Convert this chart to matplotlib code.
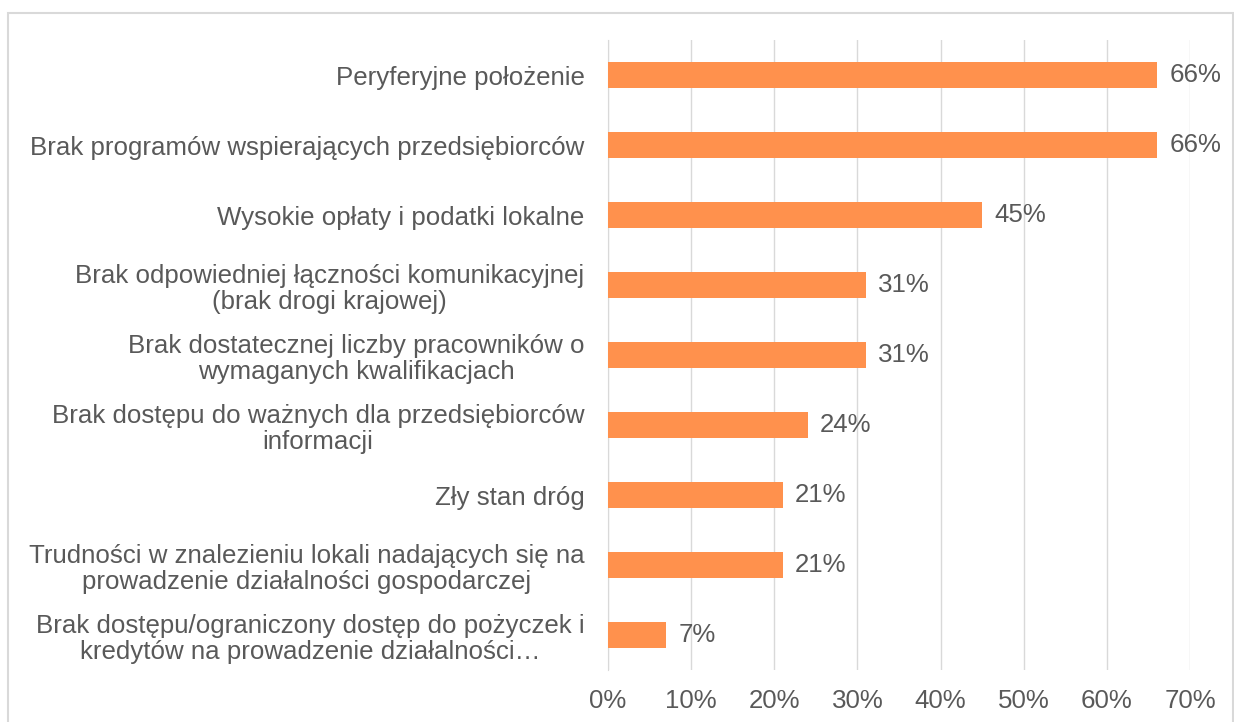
import matplotlib
matplotlib.use('Agg')
import matplotlib.pyplot as plt
from matplotlib.patches import Rectangle
from matplotlib.ticker import PercentFormatter

plt.rcParams['font.family'] = ['Liberation Sans', 'DejaVu Sans']

# dane (od góry do dołu)
categories = [
    'Peryferyjne położenie',
    'Brak programów wspierających przedsiębiorców',
    'Wysokie opłaty i podatki lokalne',
    'Brak odpowiedniej łączności komunikacyjnej\n(brak drogi krajowej)',
    'Brak dostatecznej liczby pracowników o\nwymaganych kwalifikacjach',
    'Brak dostępu do ważnych dla przedsiębiorców\ninformacji',
    'Zły stan dróg',
    'Trudności w znalezieniu lokali nadających się na\nprowadzenie działalności gospodarczej',
    'Brak dostępu/ograniczony dostęp do pożyczek i\nkredytów na prowadzenie działalności…',
]
values = [66, 66, 45, 31, 31, 24, 21, 21, 7]
value_labels = ['66%', '66%', '45%', '31%', '31%', '24%', '21%', '21%', '7%']

BAR = '#FF914D'
TXT = '#595959'
GRID = '#D9D9D9'
FS = 18.6

fig = plt.figure(figsize=(12.34, 7.22), dpi=100, facecolor='white')
ax = fig.add_axes([608 / 1234, 52 / 722, 582 / 1234, 630 / 722])

y = list(range(len(categories)))
ax.barh(y, values, height=0.37, color=BAR, zorder=3)
ax.set_ylim(len(categories) - 0.5, -0.5)
ax.set_xlim(0, 70)
ax.set_xticks(range(0, 71, 10))
ax.xaxis.set_major_formatter(PercentFormatter(decimals=0))
ax.set_yticks(y)
ax.set_yticklabels(categories)
for lab in ax.get_yticklabels():
    lab.set_multialignment('center')
    lab.set_linespacing(1.12)

ax.grid(axis='x', color=GRID, linewidth=1, zorder=0)
for s in ['top', 'right', 'bottom']:
    ax.spines[s].set_visible(False)
ax.spines['left'].set_color(GRID)
ax.tick_params(axis='both', length=0, labelsize=FS, labelcolor=TXT)
ax.tick_params(axis='y', pad=17)
ax.tick_params(axis='x', pad=14)

for yi, v, t in zip(y, values, value_labels):
    ax.text(v + 1.5, yi, t, va='center', ha='left', fontsize=FS, color=TXT)

# ramka wykresu
fig.patches.append(Rectangle((8 / 1234, -0.05), 1225 / 1234, 1.05 - 13 / 722,
                             transform=fig.transFigure, fill=False,
                             edgecolor=GRID, linewidth=1.5))

fig.savefig('out.png', dpi=100, facecolor='white')
